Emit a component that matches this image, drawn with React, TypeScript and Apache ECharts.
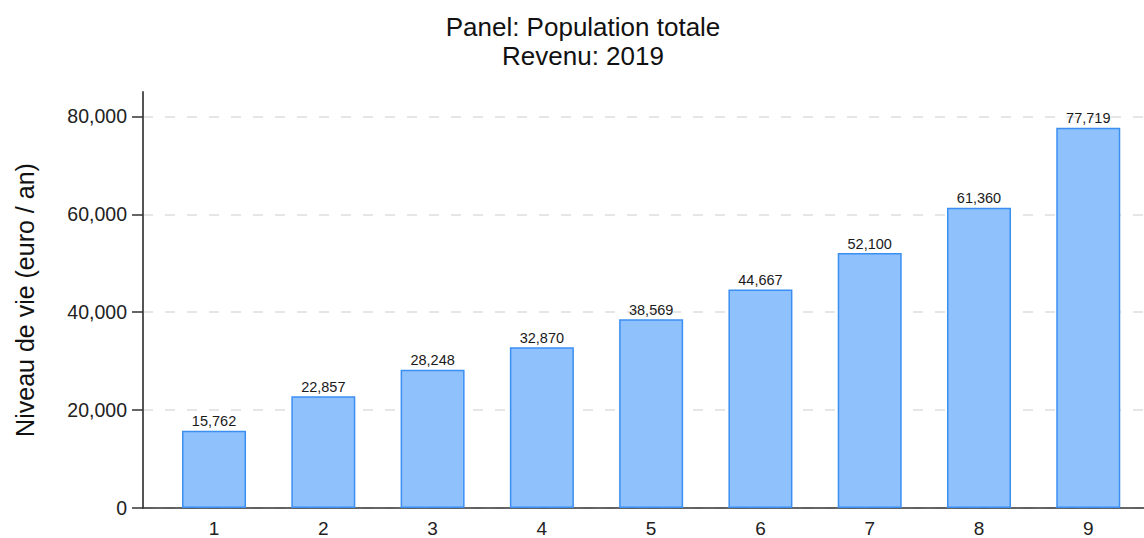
import React, { useEffect, useRef } from "react";
import * as echarts from "echarts";

const categories = [1, 2, 3, 4, 5, 6, 7, 8, 9];
const values = [15762, 22857, 28248, 32870, 38569, 44667, 52100, 61360, 77719];
const yTicks = [0, 20000, 40000, 60000, 80000];
const titleLines = ["Panel: Population totale", "Revenu: 2019"];
const yName = "Niveau de vie (euro / an)";

const fmt = (v: number) => v.toLocaleString("en-US");

export default function App() {
  const ref = useRef<HTMLDivElement>(null);
  useEffect(() => {
    if (!ref.current) return;
    const chart = echarts.init(ref.current, undefined, { renderer: "svg" });
    const font = "Liberation Sans, Arial, sans-serif";
    chart.setOption({
      animation: false,
      graphic: titleLines.map((t, i) => ({
        type: "text",
        x: 583,
        y: 27 + i * 29.2,
        style: {
          text: t,
          fontFamily: font,
          fontSize: 26,
          fill: "#111",
          align: "center",
          verticalAlign: "middle",
        },
      })),
      grid: { left: 143, right: 0, top: 92, bottom: 30, containLabel: false },
      xAxis: {
        type: "value",
        min: 0.35,
        max: 9.51,
        axisLine: { show: true, lineStyle: { color: "#333", width: 1.5 } },
        axisTick: { show: false, customValues: categories },
        axisLabel: {
          customValues: categories,
          fontFamily: font,
          fontSize: 19,
          color: "#222",
          margin: 11,
          formatter: (v: number) => String(v),
        },
        splitLine: { show: false },
      },
      yAxis: {
        type: "value",
        min: 0,
        max: 85000,
        name: yName,
        nameLocation: "middle",
        nameGap: 106,
        nameTextStyle: { fontFamily: font, fontSize: 25, color: "#111" },
        axisLine: { show: true, lineStyle: { color: "#555", width: 2 } },
        axisTick: { show: true, length: 11, customValues: yTicks, lineStyle: { color: "#333", width: 1.5 } },
        axisLabel: {
          customValues: yTicks,
          fontFamily: font,
          fontSize: 19.5,
          color: "#222",
          margin: 16,
          formatter: (v: number) => fmt(v),
        },
        splitLine: {
          show: true,
          lineStyle: { color: "#e6e6e6", type: [10, 12], width: 2 },
        },
      },
      series: [
        {
          type: "bar",
          data: categories.map((c, i) => [c, values[i]]),
          barWidth: 64,
          itemStyle: { color: "#8fc1fd", borderColor: "#3b8ff2", borderWidth: 1.5 },
          label: {
            show: true,
            position: "top",
            distance: 2,
            fontFamily: font,
            fontSize: 14.5,
            color: "#1a1a1a",
            formatter: (p: any) => fmt(p.value[1]),
          },
        },
      ],
    });
    return () => chart.dispose();
  }, []);
  return <div ref={ref} style={{ width: 1144, height: 538, position: "absolute", left: 0, top: 0 }} />;
}
